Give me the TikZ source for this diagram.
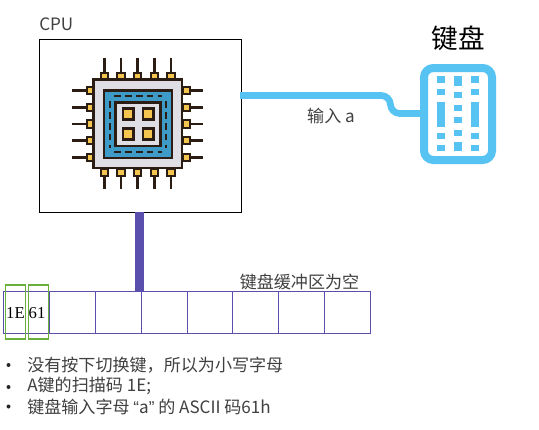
\documentclass[tikz,border=0pt]{standalone}
\usepackage{fontspec}
\setmainfont{Noto Sans CJK SC}[BoldFont={Noto Sans CJK SC}]
\newfontfamily\serifnum{Liberation Serif}
\newfontfamily\latinq{Liberation Sans}
\definecolor{chipdark}{HTML}{2B1D14}
\definecolor{chipgold}{HTML}{F5C64F}
\definecolor{chipblue}{HTML}{3E9BC8}
\definecolor{chipgray}{HTML}{DEDEE4}
\definecolor{kbblue}{HTML}{56C3F2}
\definecolor{bufpurple}{HTML}{5B4FAE}
\definecolor{boxgreen}{HTML}{6AAE3C}
\tikzset{
  x=0.75pt,y=-0.75pt,
  label text/.style={font=\fontsize{12.8}{15}\selectfont,text=black!75,inner sep=0pt},
  pin line/.style={draw=chipdark,line width=2pt},
  pad/.style={fill=chipgold,draw=chipdark,line width=1.5pt},
  chip box/.style={draw=chipdark,line width=2pt},
  chip dash/.style={draw=chipdark,line width=1.5pt,dash pattern=on 5pt off 3.2pt},
  cell/.style={draw=bufpurple,line width=0.75pt},
  key/.style={fill=kbblue},
  tag/.style={draw=boxgreen,line width=0.8pt,outer sep=0pt,minimum width=15.4pt,minimum height=40.5pt,inner sep=0pt,anchor=north west},
  bus/.style={draw=bufpurple,line width=6.6pt},
  wire/.style={draw=kbblue,line width=5pt,rounded corners=7pt},
}
\begin{document}
\begin{tikzpicture}
\useasboundingbox (0,0) rectangle (539,429);
\fill[white] (0,0) rectangle (539,429);
% CPU box
\node[draw=black,line width=0.75pt,outer sep=0pt,minimum width=151.5pt,minimum height=129.75pt,inner sep=0pt,anchor=north west] (cpu) at (39.5,39) {};
\node[label text,anchor=west] (cpulabel) at (39,24) {CPU};
% chip pins
\foreach \p in {104.3,121,137.7,154.3,171}{
  \draw[pin line] (\p,58) -- (\p,74);
  \draw[pin line] (\p,172) -- (\p,189);
  \draw[pad] (\p-3.6,72.5) rectangle (\p+3.6,79);
  \draw[pad] (\p-3.6,169) rectangle (\p+3.6,175.5);
}
\foreach \q in {90.7,107.3,124,140.7,157.3}{
  \draw[pin line] (72,\q) -- (88,\q);
  \draw[pin line] (187,\q) -- (203,\q);
  \draw[pad] (86.5,\q-3.6) rectangle (93,\q+3.6);
  \draw[pad] (183,\q-3.6) rectangle (189.5,\q+3.6);
}
% chip body
\draw[chip box,fill=chipgray] (93.7,79.7) rectangle (182,168);
\draw[chip box,fill=chipblue] (104,90.7) rectangle (172,158);
\draw[chip dash] (114,96) -- (162,96);
\draw[chip dash] (114,152) -- (162,152);
\draw[chip dash] (110,101) -- (110,148);
\draw[chip dash] (166,101) -- (166,148);
\draw[chip box,fill=chipgray] (115.7,102.4) rectangle (160.3,146);
\foreach \a in {123,143}{\foreach \b in {108.7,128.7}{
  \draw[chip box,fill=chipgold] (\a,\b) rectangle +(10.7,10.6);
}}
% keyboard
\node[draw=kbblue,line width=6pt,outer sep=0pt,rounded corners=7pt,minimum width=51pt,minimum height=69pt,inner sep=0pt,anchor=north west] (kb) at (424,68) {};
\node[font=\fontsize{20}{23}\selectfont,inner sep=0pt] (kblabel) at (458.5,38) {键盘};
\foreach \x in {437,470.7}{
  \fill[key] (\x,76.3) rectangle +(8.3,6.4);
  \fill[key] (\x,89) rectangle +(8.3,6.4);
  \fill[key] (\x,101.7) rectangle +(8.3,25);
  \fill[key] (\x,132.7) rectangle +(8.3,6.3);
  \fill[key] (\x,145) rectangle +(8.3,6.4);
}
\fill[key] (454,76.3) rectangle +(8.3,9.4);
\fill[key] (454,92) rectangle +(8.3,6.4);
\fill[key] (454,104.7) rectangle +(8.3,6.3);
\fill[key] (454,117) rectangle +(8.3,6.4);
\fill[key] (454,129.7) rectangle +(8.3,6.3);
\fill[key] (454,142) rectangle +(8.3,9.4);
% connector CPU - keyboard
\coordinate (wirea) at (240,95.5);
\coordinate (wireb) at (390.5,95.5);
\coordinate (wirec) at (390.5,113.5);
\draw[wire] (wirea) -- (wireb) -- (wirec) -- (kb.west |- wirec);
\node[label text] (inputlabel) at (331,116) {输入 a};
% buffer
\foreach \n/\l/\r in {a/3.5/49.3,b/49.3/95.5,c/95.5/141.3,d/141.3/187.3,e/187.3/232.5,f/232.5/278.5,g/278.5/324.5,h/324.5/370.5}{
  \draw[cell] (\l,291.7) rectangle (\r,333.2);
}
\coordinate (busend) at (139.5,291.7);
\draw[bus] (cpu.south -| busend) -- (busend);
\node[label text] (buflabel) at (299.5,282) {键盘缓冲区为空};
\node[tag] (tag1) at (5.3,285) {};
\node[tag] (tag2) at (28.3,285) {};
\node[font=\serifnum\fontsize{12.5}{14}\selectfont,inner sep=0pt] (v1) at (15.5,313) {1E};
\node[font=\serifnum\fontsize{12.5}{14}\selectfont,inner sep=0pt] (v2) at (37,313) {61};
% notes
\foreach \yy in {365,387,406.5}{\fill[black!85] (8.5,\yy) circle (1.5pt);}
\node[label text,anchor=west] (n1) at (27,365) {没有按下切换键，所以为小写字母};
\node[label text,anchor=west] (n2) at (27,386) {A键的扫描码 1E;};
\node[label text,anchor=west] (n3) at (27,407) {键盘输入字母 {\latinq “}a{\latinq ”} 的 ASCII 码61h};
\end{tikzpicture}
\end{document}
